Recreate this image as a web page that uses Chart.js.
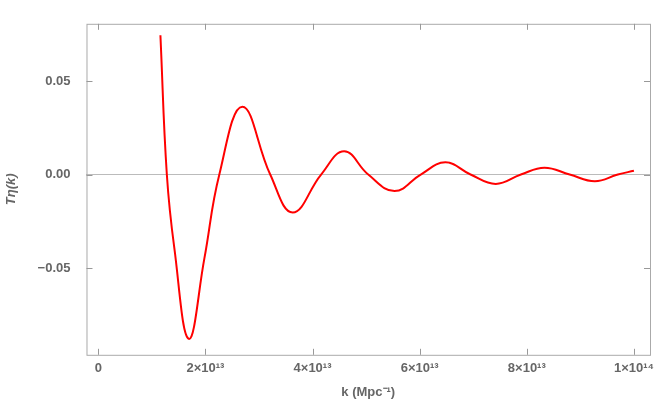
<!DOCTYPE html>
<html>
<head>
<meta charset="utf-8">
<script src="https://cdn.jsdelivr.net/npm/chart.js@4/dist/chart.umd.min.js"></script>
<style>
  html, body { margin: 0; padding: 0; background: #fff; }
  #wrap { width: 664px; height: 406px; }
</style>
</head>
<body>
<div id="wrap"><canvas id="c"></canvas></div>
<script>
// k in units of 1e13 Mpc^-1 (extrema and zero crossings)
const kVals = [1.16, 1.28, 1.42, 1.69, 1.98, 2.26, 2.69, 3.21, 3.63, 4.16, 4.59, 5.04, 5.53, 6.02, 6.48,
  6.95, 7.42, 7.89, 8.33, 8.80, 9.27, 9.70, 10.0];
const tVals = [0.0745, 0.0, -0.0394, -0.0879, -0.045, 0.0, 0.0362, 0.0, -0.0203, 0.0, 0.0124, 0.0, -0.0088, 0.0, 0.0065,
  0.0, -0.0050, 0.0, 0.0036, 0.0, -0.0036, 0.0, 0.0020];
const xTicks = [0, 2, 4, 6, 8, 10];
const yTicks = [-0.05, 0, 0.05];

const grey = '#666';
const frame = {
  id: 'frame',
  afterDraw(chart) {
    const { ctx, chartArea: a, scales } = chart;
    ctx.save();
    ctx.strokeStyle = '#aaa';
    ctx.lineWidth = 1;
    ctx.strokeRect(a.left + 0.5, a.top + 0.5, a.right - a.left, a.bottom - a.top);
    ctx.strokeStyle = '#999';
    ctx.beginPath();
    xTicks.forEach(v => {
      const x = Math.round(scales.x.getPixelForValue(v)) + 0.5;
      ctx.moveTo(x, a.bottom); ctx.lineTo(x, a.bottom - 6);
      ctx.moveTo(x, a.top); ctx.lineTo(x, a.top + 6);
    });
    yTicks.forEach(v => {
      const y = Math.round(scales.y.getPixelForValue(v)) + 0.5;
      ctx.moveTo(a.left, y); ctx.lineTo(a.left + 6, y);
      ctx.moveTo(a.right, y); ctx.lineTo(a.right - 6, y);
    });
    ctx.stroke();
    ctx.restore();
  }
};

const xLabel = v => {
  if (v === 0) return '0';
  if (v === 10) return '1×10¹⁴';
  return v + '×10¹³';
};

new Chart(document.getElementById('c'), {
  type: 'line',
  data: {
    datasets: [{
      data: kVals.map((k, i) => ({ x: k, y: tVals[i] })),
      borderColor: '#ff0000',
      borderWidth: 2,
      pointRadius: 0,
      tension: 0.42,
      fill: false,
    }],
  },
  options: {
    responsive: true,
    maintainAspectRatio: false,
    animation: false,
    layout: { padding: { top: 1, right: 14, left: 0, bottom: 2 } },
    plugins: { legend: { display: false }, tooltip: { enabled: false } },
    scales: {
      x: {
        type: 'linear',
        min: -0.22, max: 10.3,
        afterBuildTicks: s => { s.ticks = xTicks.map(v => ({ value: v })); },
        grid: { display: false, drawTicks: false },
        border: { display: false },
        ticks: { color: grey, font: { family: 'Liberation Sans', size: 13, weight: 'bold' }, padding: 6, callback: xLabel, maxRotation: 0 },
        title: { display: true, text: 'k (Mpc⁻¹)', color: grey, font: { family: 'Liberation Sans', size: 13, weight: 'bold' }, padding: { top: 2 } },
      },
      y: {
        min: -0.0964, max: 0.0806,
        afterBuildTicks: s => { s.ticks = yTicks.map(v => ({ value: v })); },
        grid: { drawTicks: false, color: c => c.tick && c.tick.value === 0 ? '#bbb' : 'rgba(0,0,0,0)' },
        border: { display: false },
        ticks: { color: grey, font: { family: 'Liberation Sans', size: 13, weight: 'bold' }, padding: 16,
          callback: v => v === 0 ? '0.00' : (v < 0 ? '−' : '') + Math.abs(v).toFixed(2) },
        title: { display: true, text: 'Tη(k)', color: grey, font: { family: 'Liberation Sans', size: 13, weight: 'bold', style: 'italic' }, padding: { bottom: 2 } },
      },
    },
  },
  plugins: [frame],
});
</script>
</body>
</html>
